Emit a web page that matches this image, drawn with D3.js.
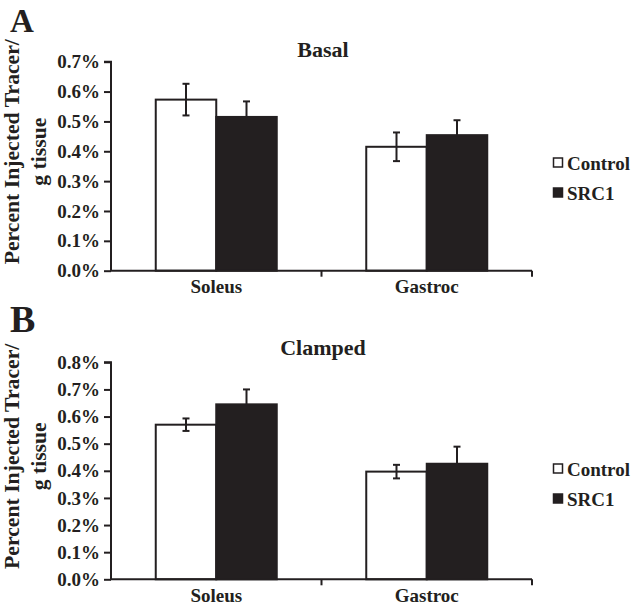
<!DOCTYPE html>
<html><head><meta charset="utf-8">
<script src="https://cdn.jsdelivr.net/npm/d3@7"></script>
<style>
html,body{margin:0;padding:0;background:#fff;}
</style></head>
<body>
<svg id="chart" width="632" height="609" font-family="'Liberation Serif', 'Times New Roman', Times, serif" font-weight="bold"></svg>
<script>
const categories = ["Soleus", "Gastroc"];
const seriesNames = ["Control", "SRC1"];
const basalControl = [0.573, 0.415];
const basalControlErr = [0.053, 0.048];
const basalSRC1 = [0.515, 0.454];
const basalSRC1Err = [0.052, 0.050];
const clampedControl = [0.570, 0.397];
const clampedControlErr = [0.023, 0.025];
const clampedSRC1 = [0.645, 0.426];
const clampedSRC1Err = [0.055, 0.063];
const basalTicks = [0, 0.1, 0.2, 0.3, 0.4, 0.5, 0.6, 0.7];
const clampedTicks = [0, 0.1, 0.2, 0.3, 0.4, 0.5, 0.6, 0.7, 0.8];
const panelLetters = ["A", "B"];
const panelTitles = ["Basal", "Clamped"];
const yLabelLines = ["Percent Injected Tracer/", "g tissue"];

const svg = d3.select("#chart");
const ink = "#231f20";
const FONT = "'Liberation Serif', 'Times New Roman', Times, serif";

function drawPanel(opt) {
  const g = svg.append("g");
  const x0 = d3.scaleBand().domain(categories).range([111, 532]).paddingInner(0).paddingOuter(0);
  const x1 = d3.scaleBand().domain(seriesNames).range([0, 121]);
  const y = d3.scaleLinear().domain([0, d3.max(opt.ticks)]).range([opt.bottom, opt.top]);

  g.append("text").attr("x", 10).attr("y", opt.letterY).attr("font-size", opt.letterSize).attr("fill", ink).text(opt.letter);
  g.append("text").attr("x", 323).attr("y", opt.titleY).attr("text-anchor", "middle").attr("font-size", 22).attr("fill", ink).text(opt.title);

  const mid = (opt.top + opt.bottom) / 2 - 14.5;
  yLabelLines.forEach((t, i) => {
    g.append("text").attr("transform", `translate(${19 + i * 27},${mid}) rotate(-90)`)
      .attr("text-anchor", "middle").attr("font-size", 21.7).attr("fill", ink).text(t);
  });

  const data = [];
  categories.forEach((c, i) => {
    data.push({c, s: "Control", v: opt.control[i], e: opt.controlErr[i]});
    data.push({c, s: "SRC1", v: opt.src1[i], e: opt.src1Err[i]});
  });
  const off = (x0.bandwidth() - 121) / 2;
  g.selectAll("rect.bar").data(data).join("rect")
    .attr("x", d => x0(d.c) + off + x1(d.s))
    .attr("y", d => y(d.v))
    .attr("width", x1.bandwidth())
    .attr("height", d => y(0) - y(d.v))
    .attr("fill", d => d.s === "Control" ? "#fff" : ink)
    .attr("stroke", ink).attr("stroke-width", 2);

  const eg = g.selectAll("g.err").data(data).join("g")
    .attr("transform", d => `translate(${x0(d.c) + off + x1(d.s) + x1.bandwidth() / 2},0)`);
  eg.append("line").attr("y1", d => y(d.v + d.e)).attr("y2", d => d.s === "Control" ? y(d.v - d.e) : y(d.v))
    .attr("stroke", ink).attr("stroke-width", 2);
  eg.append("line").attr("x1", -3.5).attr("x2", 3.5).attr("y1", d => y(d.v + d.e)).attr("y2", d => y(d.v + d.e))
    .attr("stroke", ink).attr("stroke-width", 2);
  eg.filter(d => d.s === "Control").append("line").attr("x1", -3.5).attr("x2", 3.5)
    .attr("y1", d => y(d.v - d.e)).attr("y2", d => y(d.v - d.e))
    .attr("stroke", ink).attr("stroke-width", 2);

  const yAxis = d3.axisLeft(y).tickValues(opt.ticks).tickSize(7).tickPadding(4)
    .tickFormat(d => d.toFixed(1) + "%");
  const ya = g.append("g").attr("transform", "translate(111,0)").call(yAxis)
    .attr("font-family", FONT).attr("font-size", 19);
  ya.select(".domain").attr("stroke", ink).attr("stroke-width", 2).attr("d", `M-7,${opt.top}H0V${opt.bottom}`);
  ya.selectAll(".tick line").attr("stroke", ink).attr("stroke-width", 2);
  ya.selectAll(".tick text").attr("fill", ink);

  const xa = g.append("g").attr("transform", `translate(0,${opt.bottom})`)
    .call(d3.axisBottom(x0).tickSize(0).tickPadding(9))
    .attr("font-family", FONT).attr("font-size", 19);
  xa.select(".domain").attr("stroke", ink).attr("stroke-width", 2).attr("d", "M110,0H532");
  xa.selectAll(".tick text").attr("fill", ink);
  const bounds = [x0(categories[1]), x0.range()[1]];
  xa.selectAll("line.bound").data(bounds).join("line").attr("class", "bound")
    .attr("x1", d => d).attr("x2", d => d).attr("y1", 0).attr("y2", 6)
    .attr("stroke", ink).attr("stroke-width", 2);

  const lg = g.append("g").attr("transform", `translate(553,${opt.legendY})`);
  seriesNames.forEach((s, i) => {
    lg.append("rect").attr("x", 0.5).attr("y", i * 30 - 5).attr("width", 9).attr("height", 9)
      .attr("fill", s === "Control" ? "#fff" : ink).attr("stroke", ink).attr("stroke-width", 1.5);
    lg.append("text").attr("x", 14).attr("y", i * 30 + 6.5).attr("font-size", 19).attr("fill", ink).text(s);
  });
}

drawPanel({letter: panelLetters[0], letterSize: 33, letterY: 32, title: panelTitles[0], titleY: 57,
  ticks: basalTicks, top: 61.7, bottom: 270.7,
  control: basalControl, controlErr: basalControlErr, src1: basalSRC1, src1Err: basalSRC1Err, legendY: 163});
drawPanel({letter: panelLetters[1], letterSize: 38, letterY: 332, title: panelTitles[1], titleY: 355,
  ticks: clampedTicks, top: 362.3, bottom: 579.3,
  control: clampedControl, controlErr: clampedControlErr, src1: clampedSRC1, src1Err: clampedSRC1Err, legendY: 469});
</script>
</body></html>
